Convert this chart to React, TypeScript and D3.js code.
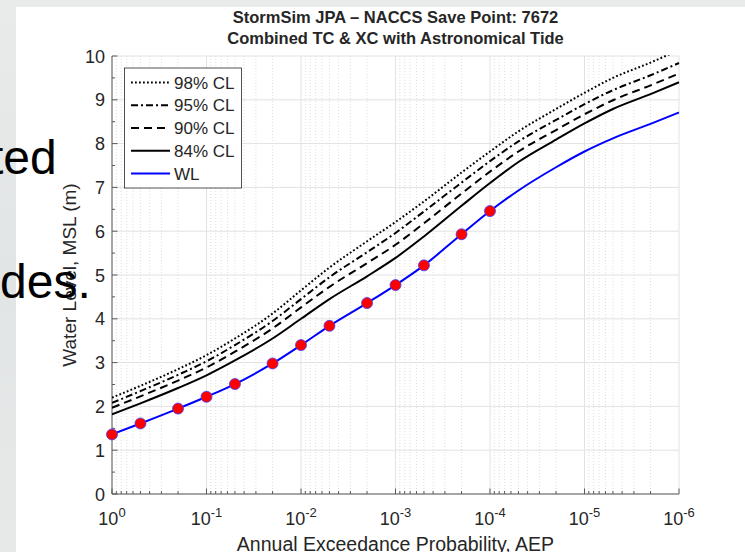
import React from 'react';
import * as d3 from 'd3';

// ---- data ----
const WL_AEP = [1, 0.5, 0.2, 0.1, 0.05, 0.02, 0.01, 0.005, 0.002, 0.001, 5e-4, 2e-4, 1e-4];
const WL_MARKED = [1.36, 1.61, 1.95, 2.22, 2.51, 2.98, 3.40, 3.84, 4.36, 4.77, 5.22, 5.93, 6.46];
const WL_TAIL_AEP = [5e-5, 2e-5, 1e-5, 5e-6, 2e-6, 1e-6];
const WL_TAIL = [6.93, 7.46, 7.82, 8.12, 8.45, 8.71];

const CL_AEP = [1, 0.5, 0.2, 0.1, 0.05, 0.02, 0.01, 0.005, 0.002, 0.001, 5e-4, 2e-4, 1e-4, 5e-5, 2e-5, 1e-5, 5e-6, 2e-6, 1e-6];
const CL84 = [1.82, 2.07, 2.42, 2.71, 3.05, 3.55, 4.00, 4.45, 4.97, 5.39, 5.88, 6.58, 7.10, 7.58, 8.09, 8.46, 8.79, 9.13, 9.40];
const CL90 = [1.97, 2.23, 2.59, 2.89, 3.25, 3.78, 4.26, 4.73, 5.27, 5.69, 6.18, 6.86, 7.36, 7.82, 8.31, 8.67, 8.99, 9.33, 9.60];
const CL95 = [2.08, 2.35, 2.72, 3.03, 3.40, 3.95, 4.45, 4.95, 5.52, 5.96, 6.45, 7.11, 7.60, 8.05, 8.54, 8.90, 9.22, 9.56, 9.84];
const CL98 = [2.20, 2.47, 2.85, 3.17, 3.55, 4.12, 4.65, 5.17, 5.77, 6.21, 6.68, 7.34, 7.82, 8.28, 8.79, 9.16, 9.50, 9.85, 10.14];

const Y_TICKS = [0, 1, 2, 3, 4, 5, 6, 7, 8, 9, 10];
const X_TICKS = [1, 1e-1, 1e-2, 1e-3, 1e-4, 1e-5, 1e-6];
const X_EXP = ['0', '-1', '-2', '-3', '-4', '-5', '-6'];

const TITLE1 = 'StormSim JPA \u2013 NACCS Save Point: 7672';
const TITLE2 = 'Combined TC & XC with Astronomical Tide';
const X_LABEL = 'Annual Exceedance Probability, AEP';
const Y_LABEL = 'Water Level, MSL (m)';
const LEGEND = ['98% CL', '95% CL', '90% CL', '84% CL', 'WL'];

const W = 745, H = 552;
const L = 112, R = 679, T = 56, B = 494;
const FONT = "Arial, 'Liberation Sans', Helvetica, sans-serif";
const TXT = '#262626';

export default function App() {
  const x = d3.scaleLog().domain([1, 1e-6]).range([L, R]);
  const y = d3.scaleLinear().domain([0, 10]).range([B, T]);

  const minorX: number[] = [];
  for (let e = 0; e < 6; e++) {
    for (let k = 2; k <= 9; k++) minorX.push(k * Math.pow(10, -e - 1));
  }
  const minorY = d3.range(0, 10).map((d) => d + 0.5);

  const line = d3
    .line<[number, number]>()
    .x((d) => x(d[0]))
    .y((d) => y(d[1]))
    .curve(d3.curveMonotoneX);

  const clPath = (vals: number[]) => line(CL_AEP.map((a, i) => [a, vals[i]] as [number, number])) || '';
  const wlAll: [number, number][] = [
    ...WL_AEP.map((a, i) => [a, WL_MARKED[i]] as [number, number]),
    ...WL_TAIL_AEP.map((a, i) => [a, WL_TAIL[i]] as [number, number]),
  ];

  const styles = [
    { dash: '1.8,2.2', w: 2 },
    { dash: '7,3,2,3', w: 2 },
    { dash: '8,5', w: 2 },
    { dash: '', w: 2 },
  ];
  const series = [CL98, CL95, CL90, CL84];

  const legX = 124.5, legY = 68, legW = 117, legH = 120;
  const rowY = (i: number) => 82.5 + i * 22.75;

  return (
    <svg width={W} height={H} style={{ position: 'absolute', left: 0, top: 0 }} fontFamily={FONT}>
      <defs>
        <clipPath id="plotclip">
          <rect x={L} y={T - 1} width={R - L + 1} height={B - T + 1} />
        </clipPath>
        <linearGradient id="bgside" x1="0" y1="0" x2="0" y2="1">
          <stop offset="0" stopColor="#e9ebeb" />
          <stop offset="0.5" stopColor="#e2e5e5" />
          <stop offset="1" stopColor="#e7e9e9" />
        </linearGradient>
      </defs>
      <rect x={0} y={0} width={W} height={H} fill="url(#bgside)" />
      <rect x={16} y={7} width={W - 16} height={H - 7} fill="#ffffff" />

      {/* grid */}
      <g>
        {minorX.map((v, i) => (
          <line key={'mx' + i} x1={x(v)} x2={x(v)} y1={T} y2={B} stroke="#d6d6d6" strokeWidth={0.8} strokeDasharray="1,2" />
        ))}
        {X_TICKS.map((v, i) => (
          <line key={'gx' + i} x1={x(v)} x2={x(v)} y1={T} y2={B} stroke="#e2e2e2" strokeWidth={1} />
        ))}
        {Y_TICKS.map((v, i) => (
          <line key={'gy' + i} x1={L} x2={R} y1={y(v)} y2={y(v)} stroke="#e2e2e2" strokeWidth={1} />
        ))}
      </g>

      {/* axes */}
      <g stroke="#5a5a5a" strokeWidth={1}>
        <line x1={L} x2={L} y1={T} y2={B} />
        <line x1={L} x2={R} y1={B} y2={B} />
        {Y_TICKS.map((v, i) => (
          <line key={'ty' + i} x1={L} x2={L + 5.5} y1={y(v)} y2={y(v)} />
        ))}
        {minorY.map((v, i) => (
          <line key={'tmy' + i} x1={L} x2={L + 3} y1={y(v)} y2={y(v)} />
        ))}
        {X_TICKS.map((v, i) => (
          <line key={'tx' + i} x1={x(v)} x2={x(v)} y1={B} y2={B - 5.5} />
        ))}
        {minorX.map((v, i) => (
          <line key={'tmx' + i} x1={x(v)} x2={x(v)} y1={B} y2={B - 3} />
        ))}
      </g>

      {/* data */}
      <g clipPath="url(#plotclip)" fill="none">
        {series.map((s, i) => (
          <path key={'cl' + i} d={clPath(s)} stroke="#000" strokeWidth={styles[i].w} strokeDasharray={styles[i].dash || undefined} />
        ))}
        <path d={line(wlAll) || ''} stroke="#0000ff" strokeWidth={2} />
      </g>
      <g>
        {WL_AEP.map((a, i) => (
          <circle key={'m' + i} cx={x(a)} cy={y(WL_MARKED[i])} r={5.5} fill="#ff0000" stroke="#4040ff" strokeWidth={0.8} />
        ))}
      </g>

      {/* tick labels */}
      <g fill={TXT} fontSize={18}>
        {Y_TICKS.map((v, i) => (
          <text key={'ly' + i} x={105} y={y(v) + 6.5} textAnchor="end">{v}</text>
        ))}
        {X_TICKS.map((v, i) => (
          <text key={'lx' + i} x={x(v)} y={525} textAnchor="middle">
            10<tspan dy={-8} fontSize={13}>{X_EXP[i]}</tspan>
          </text>
        ))}
      </g>

      {/* axis labels */}
      <text x={(L + R) / 2} y={551} textAnchor="middle" fontSize={19.5} fill={TXT}>{X_LABEL}</text>
      <text transform={`translate(76,${(T + B) / 2}) rotate(-90)`} textAnchor="middle" fontSize={19} fill={TXT}>{Y_LABEL}</text>

      {/* title */}
      <text x={(L + R) / 2} y={23} textAnchor="middle" fontSize={16.5} fontWeight="bold" fill={TXT}>{TITLE1}</text>
      <text x={(L + R) / 2} y={44} textAnchor="middle" fontSize={16.5} fontWeight="bold" fill={TXT}>{TITLE2}</text>

      {/* legend */}
      <g>
        <rect x={legX} y={legY} width={legW} height={legH} fill="#fff" stroke="#262626" strokeWidth={0.8} />
        {LEGEND.map((name, i) => (
          <g key={'lg' + i}>
            <line
              x1={131}
              x2={170}
              y1={rowY(i)}
              y2={rowY(i)}
              stroke={i === 4 ? '#0000ff' : '#000'}
              strokeWidth={2}
              strokeDasharray={i < 4 && styles[i].dash ? styles[i].dash : undefined}
            />
            <text x={174} y={rowY(i) + 6} fontSize={17} fill={TXT}>{name}</text>
          </g>
        ))}
      </g>

      {/* slide text behind/over the figure */}
      <text x={-10} y={174} fontSize={48} fill="#000">ted</text>
      <text x={0} y={298} fontSize={48} fill="#000">des.</text>
    </svg>
  );
}
